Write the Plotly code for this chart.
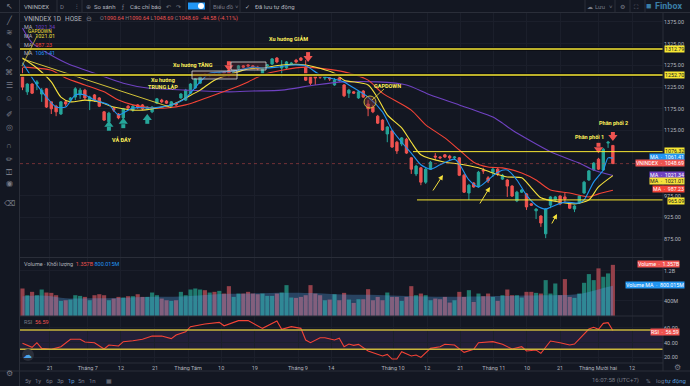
import plotly.graph_objects as go

# OHLC (VNINDEX daily)
opens = [1253,1214,1232,1232,1209,1221,1191,1181,1163,1191,1195,1202,1207,1218,1193,1207,1200,1168,1145,1177,
         1163,1154,1181,1172,1184,1184,1175,1168,1188,1195,1193,1181,1188,1200,1195,1211,1223,1234,1255,1251,
         1255,1253,1260,1264,1255,1267,1274,1276,1274,1271,1255,1274,1278,1292,1269,1269,1278,1287,1292,1271,
         1251,1251,1251,1246,1246,1230,1246,1230,1211,1214,1200,1216,1186,1179,1158,1149,1117,1124,1098,1094,
         1105,1062,1025,1039,1006,1036,1066,1064,1069,1066,1062,1062,1022,981,1004,995,1034,1016,1029,1036,
         1013,1011,997,963,983,979,956,940,928,887,953,965,974,972,958,944,958,981,1011,1034,
         1059,1034,1096,1090.64]
highs = [1269,1234,1234,1241,1223,1223,1191,1184,1193,1195,1202,1225,1223,1221,1205,1209,1202,1170,1168,1179,
         1165,1177,1184,1184,1186,1186,1181,1181,1200,1198,1195,1193,1191,1211,1221,1234,1246,1251,1257,1255,
         1257,1260,1262,1267,1262,1276,1276,1278,1276,1274,1269,1278,1292,1294,1287,1285,1283,1290,1294,1287,
         1253,1253,1253,1251,1248,1246,1248,1232,1221,1216,1216,1218,1195,1184,1161,1151,1135,1126,1101,1110,
         1108,1064,1046,1041,1039,1055,1073,1066,1071,1069,1066,1064,1025,1002,1006,1032,1039,1020,1039,1039,
         1025,1013,999,986,990,981,958,946,930,946,974,974,976,981,960,953,976,1009,1034,1052,
         1062,1085,1101,1090.64]
lows = [1218,1207,1209,1218,1191,1177,1163,1158,1161,1181,1191,1195,1198,1195,1172,1191,1179,1147,1142,1168,
        1151,1151,1172,1168,1175,1172,1172,1165,1186,1188,1186,1179,1181,1198,1193,1209,1221,1232,1251,1248,
        1251,1251,1255,1248,1251,1264,1269,1271,1269,1264,1253,1271,1276,1280,1248,1267,1276,1280,1285,1239,
        1230,1230,1244,1241,1239,1228,1237,1202,1200,1209,1198,1200,1158,1165,1140,1124,1098,1085,1071,1089,
        1071,1025,1020,999,1002,1034,1057,1059,1062,1057,1057,1020,981,965,993,993,1025,1004,1018,1020,
        1011,972,972,960,981,942,951,921,903,877,946,960,953,960,944,937,956,979,1009,1032,
        1034,1032,1085,1048.69]
closes = [1225,1232,1211,1237,1218,1179,1175,1168,1191,1186,1200,1221,1218,1200,1202,1195,1181,1149,1165,1172,
          1154,1175,1177,1181,1179,1175,1179,1179,1198,1191,1188,1191,1184,1209,1218,1232,1244,1248,1253,1253,
          1253,1257,1257,1251,1260,1274,1271,1274,1271,1267,1267,1276,1290,1283,1274,1283,1280,1283,1287,1241,
          1234,1246,1248,1248,1244,1241,1241,1205,1218,1211,1214,1202,1175,1168,1142,1126,1133,1087,1078,1108,
          1073,1036,1043,1006,1036,1052,1064,1062,1064,1062,1064,1022,983,999,995,1029,1032,1009,1036,1025,
          1022,997,974,983,988,949,953,944,912,944,972,972,956,967,946,951,974,1006,1032,1050,
          1036,1082,1098,1048.69]
volumes = [730,552,641,552,703,623,614,552,400,418,436,552,534,507,418,552,578,552,418,463,
           507,490,525,525,578,507,507,623,552,463,418,400,418,641,552,703,730,703,685,623,
           641,667,596,792,507,596,596,641,596,578,596,534,534,596,623,819,490,481,507,552,
           819,596,552,418,436,578,418,614,436,347,445,445,712,418,507,418,623,507,507,400,
           507,792,552,596,552,418,463,445,507,356,418,641,507,685,374,596,525,596,507,400,
           552,703,552,552,490,641,641,614,596,952,596,863,552,979,507,481,596,881,1112,952,
           1264,1041,1130,1357]

# Moving averages: (bar index, value)
blue_x = [0,3,5,7,9,11,13,15,18,20,23,27,31,34,37,39,42,45,48,50,53,56,59,62,67,68,72,75,77,79,81,83,85,87,90,91,93,95,97,99,101,103,105,107,109,111,113,116,117,119,121,122,123]
blue_y = [1281,1230,1202,1179,1179,1207,1207,1195,1184,1161,1177,1177,1184,1200,1237,1257,1260,1264,1271,1269,1271,1276,1274,1253,1237,1230,1202,1168,1126,1098,1073,1046,1036,1046,1059,1048,1011,995,1011,1029,1034,1011,976,953,944,953,960,958,965,1006,1034,1062,1061.41]
yellow_x = [0,3,6,8,10,13,16,19,23,25,28,32,34,37,40,44,47,50,54,59,65,67,72,74,76,79,81,83,88,91,95,98,101,104,106,108,112,115,118,120,123]
yellow_y = [1292,1269,1237,1202,1191,1195,1191,1179,1172,1172,1177,1188,1200,1218,1241,1257,1267,1269,1276,1276,1257,1241,1230,1200,1161,1131,1098,1069,1052,1048,1039,1027,1018,1016,993,970,960,956,965,995,1021.01]
red_x = [0,6,9,13,17,20,23,27,30,34,36,40,44,47,50,54,59,67,72,75,81,84,88,91,94,97,100,104,107,110,114,118,120,123]
red_y = [1271,1264,1246,1230,1214,1195,1184,1177,1177,1184,1191,1207,1223,1237,1253,1264,1271,1260,1241,1211,1172,1138,1108,1080,1052,1041,1039,1027,1011,988,981,972,979,987.23]
purple_x = [0,2,9,16,21,26,34,43,48,54,61,67,74,80,85,91,98,100,102,110,116,119,123]
purple_y = [1361,1327,1281,1253,1234,1223,1218,1214,1216,1218,1230,1237,1237,1230,1207,1184,1156,1142,1126,1076,1050,1034,1021.34]
trend_x = [0,31]
trend_y = [1290,1178]

volma_x = [0,5,9,14,20,27,33,38,43,48,55,60,67,74,80,88,95,100,108,115,118,121,123]
volma_y = [525,540,470,470,480,510,520,560,590,600,620,610,570,560,530,510,520,530,550,570,640,740,800.015]

rsi_x = [0,1,2,3,4,6,8,10,12,13,15,17,18,20,21,23,25,27,29,31,32,34,35,38,41,42,45,47,50,53,54,56,58,59,60,62,63,65,66,67,68,69,70,72,75,76,77,78,79,81,82,83,85,87,88,90,92,94,95,98,100,102,104,105,107,108,110,112,114,115,118,119,120,121,122,123]
rsi_y = [39.1,36,33.7,40,32.3,31,34.6,44.6,44.6,41,40,31.4,36.8,35.5,41.4,42.7,44.6,49,49,45.5,50.5,55,61.8,65.4,67.7,63,70,70,59.5,69.5,58.2,61.8,59.5,43.6,40,46.8,46.8,43.6,46,34.6,38.2,36.4,37.7,28.7,21.9,24.1,17.8,17.8,27.8,21.9,23.2,20,32.3,34.6,37.8,36.9,26.9,31,40,41.4,37.8,31.4,34.6,28.7,30,25.5,42.3,40,36.9,38.2,58.6,60.9,58.2,66.3,67.2,56.59]

tick_pos = [5.7,13.6,20.5,27.6,34.5,41.4,48.4,57.4,64.3,77.2,84.3,91.2,98.2,105.1,112,119.9,127]
tick_text = ["21","Tháng 7","12","21","Tháng Tám","10","19","Tháng 9","14","Tháng 10","12","21","Tháng 11","10","21","Tháng Mười hai","12"]
price_ticks = [1375,1325,1275,1225,1175,1125,975,925,875]
vol_ticks = [400,1200]
vol_tick_text = ["400M","1.2B"]
rsi_ticks = [20,40,60]

# signal arrows: bar index, head level, tail level
buy_x = [18, 21, 26]
buy_head = [1138, 1145, 1154]
buy_tail = [1129, 1135, 1145]
sell_x = [43, 59.5, 120, 123]
sell_head = [1271, 1292, 1082, 1110]
sell_tail = [1280, 1301, 1092, 1117]

level_top = 1312.79
level_mid = 1252.70
level_res = 1076.32
level_sup = 965.09
last_price = 1048.69
last_rsi = 56.59

W, H = 690, 386
BG = "#131722"
GRID = "#1b1f2b"
EDGE = "#2a2e39"
TXT = "#b2b5be"
DIM = "#787b86"
UP = "#26a69a"
DOWN = "#ef5350"
YEL = "#f7e733"
FONT = "Roboto, Liberation Sans, sans-serif"

def X(px): return px / W
def Y(py): return 1 - py / H

fig = go.Figure()
vol_colors = ["#94404a" if c < o else "#1f7a6e" for o, c in zip(opens, closes)]
idx = list(range(len(opens)))

fig.add_trace(go.Bar(x=idx, y=volumes, marker=dict(color=vol_colors, line_width=0), width=0.86, yaxis="y2", showlegend=False))
fig.add_trace(go.Scatter(x=volma_x, y=volma_y, mode="lines", line=dict(color="rgba(41,98,255,0)", width=0, shape="spline"),
                         fill="tozeroy", fillcolor="rgba(90,170,245,0.30)", yaxis="y2", showlegend=False))
fig.add_trace(go.Candlestick(x=idx, open=opens, high=highs, low=lows, close=closes,
                             increasing=dict(line=dict(color=UP, width=1), fillcolor=UP),
                             decreasing=dict(line=dict(color=DOWN, width=1), fillcolor=DOWN),
                             whiskerwidth=0, yaxis="y", showlegend=False))
for xs, ys, col in [(purple_x, purple_y, "#6f42c1"), (red_x, red_y, "#f44336"),
                    (yellow_x, yellow_y, "#f5e13c"), (blue_x, blue_y, "#2196f3")]:
    fig.add_trace(go.Scatter(x=xs, y=ys, mode="lines", line=dict(color=col, width=1.1, shape="spline", smoothing=0.7),
                             yaxis="y", showlegend=False))
fig.add_trace(go.Scatter(x=trend_x, y=trend_y, mode="lines", line=dict(color="#e8d53a", width=0.9), yaxis="y", showlegend=False))
fig.add_trace(go.Scatter(x=rsi_x, y=rsi_y, mode="lines", line=dict(color="#f44336", width=1.1), yaxis="y3", showlegend=False))

# signal arrows: a square tail and a triangular head
for xs, head, tail, col, sym in [(buy_x, buy_head, buy_tail, UP, "triangle-up"),
                                 (sell_x, sell_head, sell_tail, DOWN, "triangle-down")]:
    fig.add_trace(go.Scatter(x=xs, y=tail, mode="markers", marker=dict(symbol="square", size=4, color=col, line_width=0), yaxis="y", showlegend=False))
    fig.add_trace(go.Scatter(x=xs, y=head, mode="markers", marker=dict(symbol=sym, size=8, color=col, line_width=0), yaxis="y", showlegend=False))

shapes = []
def hline(level, x0, color, w=1.5, dash="solid", yref="y"):
    shapes.append(dict(type="line", xref="paper", yref=yref, x0=X(x0), x1=X(663), y0=level, y1=level,
                       line=dict(color=color, width=w, dash=dash), layer="above"))
def box(x0, y0, x1, y1, fill, line="rgba(0,0,0,0)", w=0.8):
    shapes.append(dict(type="rect", xref="paper", yref="paper", x0=X(x0), x1=X(x1), y0=Y(y0), y1=Y(y1),
                       fillcolor=fill, line=dict(color=line, width=w), layer="above"))
def seg(x0, y0, x1, y1, color=EDGE, w=1):
    shapes.append(dict(type="line", xref="paper", yref="paper", x0=X(x0), x1=X(x1), y0=Y(y0), y1=Y(y1),
                       line=dict(color=color, width=w), layer="above"))

# RSI band
shapes.append(dict(type="rect", xref="paper", yref="y3", x0=X(20), x1=X(663), y0=31, y1=57.3,
                   fillcolor="rgba(126,87,194,0.14)", line_width=0, layer="below"))
for lvl, col, wd in [(level_top, "#0b0d12", 3.5), (level_mid, "#0b0d12", 3.5)]:
    hline(lvl, 20, col, wd)
hline(level_top, 20, YEL, 1.5)
hline(level_mid, 20, YEL, 1.5)
hline(level_res, 413, YEL, 1)
hline(level_sup, 417, YEL, 1)
hline(last_price, 20, "rgba(239,83,80,0.55)", 0.8, "dot")
hline(57.3, 20, "#c9b53c", 1.4, yref="y3")
hline(31, 20, "#c9b53c", 1.4, yref="y3")

# panel frame
seg(19.5, 0, 19.5, 386); seg(0, 12.5, 690, 12.5); seg(20, 257.5, 663, 257.5); seg(20, 316, 663, 316)
seg(0, 371, 690, 371); seg(663, 12, 663, 371); seg(20, 363, 663, 363)
for x_ in (57, 82, 160, 186, 210, 240, 585, 615, 630, 645):
    seg(x_, 0, x_, 12)

# study boxes
box(192, 71, 237, 79, "rgba(120,40,50,0.25)", "#d8d8d8")
box(231, 62, 266, 70, "rgba(120,40,50,0.25)", "#d8d8d8")
shapes.append(dict(type="circle", xref="paper", yref="paper", x0=X(364), x1=X(376), y0=Y(96), y1=Y(108),
                   fillcolor="rgba(120,50,60,0.45)", line=dict(color="#d6c33a", width=0.9), layer="above"))
seg(372, 100, 384, 89, "#d6c33a", 0.9)
seg(22, 66, 37, 36, "#d6c33a", 0.8)
# toggle
box(188, 2.5, 205, 9.5, "#2196f3")
shapes.append(dict(type="circle", xref="paper", yref="paper", x0=X(198), x1=X(204), y0=Y(3), y1=Y(9), fillcolor="#ffffff", line_width=0, layer="above"))
shapes.append(dict(type="circle", xref="paper", yref="paper", x0=X(22), x1=X(34), y0=Y(349), y1=Y(361), fillcolor="#2a2e39", line_width=0, layer="above"))

ann = []
def text(px, py, s, color=TXT, size=6.5, anchor="center", bold=False, bg=None):
    d = dict(x=X(px), y=Y(py), xref="paper", yref="paper", text=f"<b>{s}</b>" if bold else s, showarrow=False,
             xanchor=anchor, yanchor="middle", font=dict(color=color, size=size, family=FONT), align="center",
             borderpad=0)
    if bg:
        d["bgcolor"] = bg
    ann.append(d)

# top toolbar
for px, s, c, a in [(23, "VNINDEX", TXT, "left"), (62, "D", DIM, "center"), (77, "⫶", DIM, "center"),
                    (88, "⊕", DIM, "center"), (93, "So sánh", TXT, "left"), (123, "ƒ", DIM, "center"),
                    (129, "Các chỉ báo", TXT, "left"), (168, "↶", DIM, "center"), (178, "↷", DIM, "center"),
                    (212, "Biểu đồ", DIM, "left"), (237, "˅", DIM, "center"), (247, "✓", TXT, "center"),
                    (254, "Đã lưu tự động", TXT, "left"), (590, "☁", DIM, "center"), (600, "Lưu", DIM, "center"),
                    (611, "˅", DIM, "center"), (622, "⚙", DIM, "center"), (636, "⛶", DIM, "center")]:
    text(px, 6, s, c, 6, a)
text(648, 5.5, "■", "#3a7ea6", 9)
text(654, 5.5, "Finbox", "#3a7ea6", 9, "left", True)

# left toolbar
for py, s in [(7, "↖"), (20, "╱"), (33, "≋"), (47, "✎"), (59, "◇"), (72, "⌘"), (85, "☰"), (98, "☺"), (115, "✐"),
              (127, "◎"), (145, "∩"), (159, "✏"), (172, "⚿"), (184, "◉"), (203, "⌫"), (373, "⚙")]:
    text(9, py, s, DIM, 8)

# legend block
text(23, 19, "VNINDEX", TXT, 6.5, "left")
text(57, 19, "1D", TXT, 6.5)
text(73, 19, "HOSE", TXT, 6.5)
text(89, 19, "⊖", DIM, 7)
r = '<span style="color:#ef5350">'
text(99, 19, f"O{r}1090.64</span> H{r}1090.64</span> L{r}1048.69</span> C{r}1048.69</span>  {r}-44.58 (-4.11%)</span>", DIM, 5.5, "left")
for py, val, col in [(27, "1021.34", "#6f42c1"), (36, "1021.01", "#f5e13c"), (45, "987.23", "#f44336"), (53, "1061.41", "#2196f3")]:
    text(23, py, f'MA  <span style="color:{col}">{val}</span>', TXT, 5.5, "left")
text(27, 31.5, "GAPDOWN", "#f5e13c", 4.8, "left")
text(23, 264, f'Volume · Khối lượng  {r}1.357B</span> <span style="color:#2196f3">800.015M</span>', TXT, 5.5, "left")
text(23, 322, f'RSI  {r}56.59</span>', DIM, 5.5, "left")

# chart notes
for px, py, s in [(288, 38, "Xu hướng GIẢM"), (193, 65, "Xu hướng TĂNG"), (163, 83, "Xu hướng<br>TRUNG LẬP"),
                  (121, 140, "VẢ ĐÁY"), (387, 86, "GAPDOWN"), (589, 137, "Phân phối 1"), (613, 123, "Phân phối 2")]:
    text(px, py, s, "#fdf05a", 5.5, bold=True)

# price labels on the right
def tag(py, s, bg, fg="#131722", right=685):
    ann.append(dict(x=X(right), y=Y(py), xref="paper", yref="paper", text=s, showarrow=False, xanchor="right", yanchor="middle",
                    font=dict(color=fg, size=5.3, family=FONT), bgcolor=bg, borderpad=0))
tag(49, "1312.79", YEL); tag(75, "1252.70", YEL); tag(151, "1076.32", YEL); tag(201, "965.09", YEL)
tag(157, "MA  ·  1061.41", "#2196f3", "#ffffff")
tag(163, "VNINDEX  ·  1048.69", "#ef5350", "#ffffff")
tag(175, "MA  ·  1021.34", "#6f42c1", "#ffffff")
tag(181, "MA  ·  1021.01", "#f5e13c")
tag(189, "MA  ·  987.23", "#f44336", "#ffffff")
tag(264, "Volume  ·  1.357B", "#ef5350", "#ffffff", 680)
tag(285, "Volume MA  ·  800.015M", "#2196f3", "#ffffff", 685)
tag(332, "RSI  ·  56.59", "#ef5350", "#ffffff", 680)

# bottom toolbar
for px, s, c in [(28, "5y", DIM), (38, "1y", DIM), (49, "6p", DIM), (60, "3p", DIM), (71, "1p", "#5b9bd5"), (81, "5n", DIM), (92, "1n", DIM),
                 (109, "▦", DIM), (615, "16:07:58 (UTC+7)", DIM), (648, "%", DIM), (660, "log", DIM), (675, "tự động", "#5b9bd5")]:
    text(px, 380, s, c, 6)
text(677, 367, "⚙", DIM, 8)
text(28, 355, "☁", "#4aa3e8", 9)

# yellow hand-drawn arrows
for x0, y0, x1, y1 in [(432, 192, 443, 175), (479, 205, 490, 187), (551, 225, 557, 214)]:
    ann.append(dict(x=X(x1), y=Y(y1), ax=x0 - x1, ay=y0 - y1, xref="paper", yref="paper", axref="pixel", ayref="pixel", text="",
                    showarrow=True, arrowhead=2, arrowsize=1, arrowwidth=1, arrowcolor="#f5e13c"))

axis_font = dict(color=TXT, size=5.5, family=FONT)
fig.update_layout(
    width=W, height=H, autosize=False, margin=dict(l=0, r=0, t=0, b=0),
    paper_bgcolor=BG, plot_bgcolor=BG, showlegend=False, dragmode=False, barmode="overlay", hovermode=False,
    xaxis=dict(domain=[X(20), X(663)], range=[-0.52, 133.44], anchor="y3", tickmode="array", tickvals=tick_pos, ticktext=tick_text,
               showgrid=True, gridcolor=GRID, gridwidth=1, zeroline=False, showline=False, ticks="", tickfont=axis_font, tickangle=0,
               rangeslider=dict(visible=False), fixedrange=True, ticklabelstandoff=0),
    yaxis=dict(domain=[Y(257), Y(12)], range=[833.6, 1398], side="right", anchor="x", tickmode="array", tickvals=price_ticks,
               tickformat=".2f", showgrid=True, gridcolor=GRID, zeroline=False, showline=False, ticks="", tickfont=axis_font, fixedrange=True),
    yaxis2=dict(domain=[Y(316), Y(258)], range=[0, 1539], side="right", anchor="x", tickmode="array", tickvals=vol_ticks, ticktext=vol_tick_text,
                showgrid=True, gridcolor=GRID, zeroline=False, showline=False, ticks="", tickfont=axis_font, fixedrange=True),
    yaxis3=dict(domain=[Y(363), Y(316)], range=[12.4, 76.3], side="right", anchor="x", tickmode="array", tickvals=rsi_ticks, tickformat=".2f",
                showgrid=True, gridcolor=GRID, zeroline=False, showline=False, ticks="", tickfont=axis_font, fixedrange=True),
    shapes=shapes, annotations=ann,
)
fig.write_html("out.html", config=dict(displayModeBar=False),
               post_script="document.body.style.margin='0';document.body.style.background='#131722';document.body.style.overflow='hidden';")
